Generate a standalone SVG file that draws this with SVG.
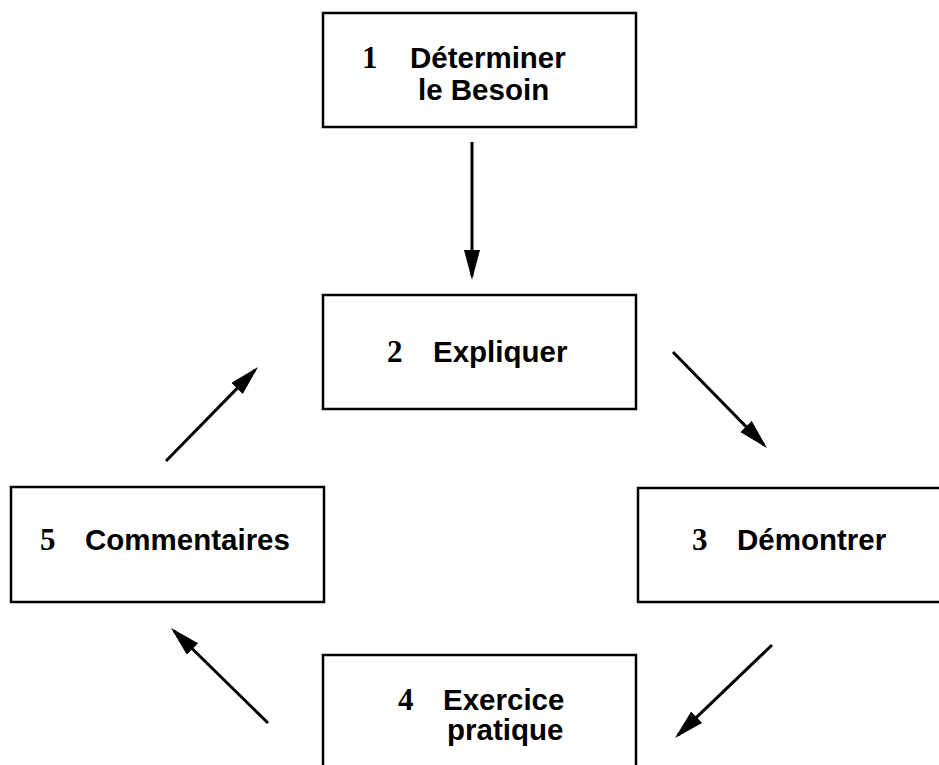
<svg xmlns="http://www.w3.org/2000/svg" width="939" height="765" viewBox="0 0 939 765">
<style>
.box{fill:#fff;stroke:#000;stroke-width:2.5}
.lbl{font-family:"Liberation Sans",Arial,sans-serif;font-weight:bold;font-size:29.5px;fill:#000}
.num{font-family:"Liberation Serif","Times New Roman",serif;font-weight:bold;font-size:31px;fill:#000}
.arr{fill:none;stroke:#000;stroke-width:3;marker-end:url(#ah)}
</style>
<defs>
<marker id="ah" markerUnits="userSpaceOnUse" markerWidth="32" markerHeight="18" refX="26" refY="8" orient="auto">
<path d="M0,0 L30,8 L0,16 Z" fill="#000"/>
</marker>
</defs>
<rect width="939" height="765" fill="#fff"/>
<g id="n1">
<rect class="box" x="323" y="13" width="313" height="114"/>
<text class="num" x="362" y="68">1</text>
<text class="lbl" x="410" y="68">Déterminer</text>
<text class="lbl" x="418" y="100">le Besoin</text>
</g>
<g id="n2">
<rect class="box" x="323" y="295" width="313" height="114"/>
<text class="num" x="387" y="362">2</text>
<text class="lbl" x="433" y="362">Expliquer</text>
</g>
<g id="n3">
<rect class="box" x="638" y="488" width="320" height="114"/>
<text class="num" x="692" y="550">3</text>
<text class="lbl" x="737" y="550">Démontrer</text>
</g>
<g id="n4">
<rect class="box" x="323" y="655" width="313" height="130"/>
<text class="num" x="398" y="710">4</text>
<text class="lbl" x="443" y="710">Exercice</text>
<text class="lbl" x="447" y="740">pratique</text>
</g>
<g id="n5">
<rect class="box" x="11" y="487" width="313" height="115"/>
<text class="num" x="40" y="550">5</text>
<text class="lbl" x="85" y="550">Commentaires</text>
</g>
<g id="connectors">
<path class="arr" d="M472,142 L472,276"/>
<path class="arr" d="M673,352 L764.2,445.1"/>
<path class="arr" d="M772,645 L677.9,735.2"/>
<path class="arr" d="M268,723 L173.9,630.8"/>
<path class="arr" d="M166,461 L255.2,369.9"/>
</g>
</svg>
